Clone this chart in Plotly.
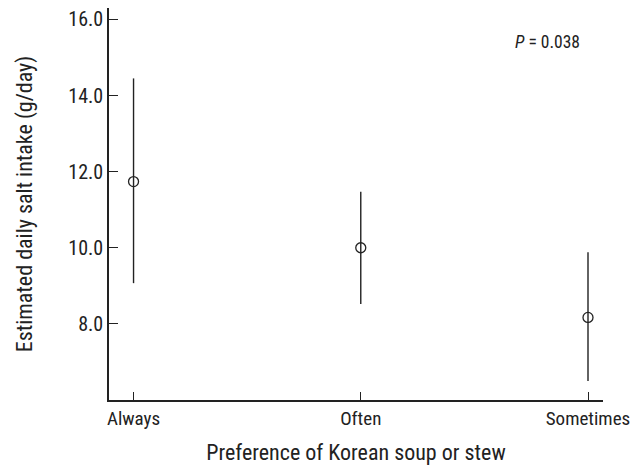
import plotly.graph_objects as go

categories = ["Always", "Often", "Sometimes"]
means = [11.74, 10.0, 8.17]
upper = [14.45, 11.47, 9.88]
lower = [9.07, 8.52, 6.5]
y_ticks = [8.0, 10.0, 12.0, 14.0, 16.0]
y_tick_labels = ["8.0", "10.0", "12.0", "14.0", "16.0"]
p_text = "<i>P</i> = 0.038"

FONT = "Liberation Sans Narrow, Arial Narrow, Roboto Condensed, Liberation Sans, sans-serif"

x_idx = list(range(len(categories)))
fig = go.Figure()
fig.add_trace(go.Scatter(
    x=x_idx, y=means, mode="markers",
    marker=dict(symbol="circle-open", size=10, color="#222222", line=dict(width=1.3)),
    error_y=dict(type="data", symmetric=False,
                 array=[u - m for u, m in zip(upper, means)],
                 arrayminus=[m - l for m, l in zip(means, lower)],
                 width=0, thickness=1.4, color="#222222"),
    showlegend=False,
))

fig.add_annotation(x=1.0, y=1.0, xref="paper", yref="paper", xanchor="right", yanchor="top",
                   xshift=-21, yshift=-22, text=p_text, showarrow=False,
                   font=dict(family=FONT, size=17.5, color="#222222"))

fig.update_layout(
    width=633, height=468,
    margin=dict(l=109, r=30, t=8, b=68),
    paper_bgcolor="white", plot_bgcolor="white",
    font=dict(family=FONT, size=20, color="#222222"),
)
fig.update_xaxes(
    tickmode="array", tickvals=x_idx, ticktext=categories,
    range=[-0.108, 2.066], showgrid=False, zeroline=False,
    showline=True, linecolor="#222222", linewidth=1.5,
    ticks="inside", ticklen=8, tickwidth=1.3, tickcolor="#222222",
    title=dict(text="Preference of Korean soup or stew", standoff=16,
               font=dict(family=FONT, size=22)),
    tickfont=dict(family=FONT, size=19),
    ticklabeloverflow="allow",
    automargin=False,
)
fig.update_yaxes(
    tickmode="array", tickvals=y_ticks, ticktext=y_tick_labels,
    range=[6.0, 16.3], showgrid=False, zeroline=False,
    showline=True, linecolor="#222222", linewidth=1.5,
    ticks="inside", ticklen=9, tickwidth=1.3, tickcolor="#222222",
    title=dict(text="Estimated daily salt intake (g/day)", standoff=30,
               font=dict(family=FONT, size=22)),
    tickfont=dict(family=FONT, size=20),
    ticklabeloverflow="allow",
    automargin=False,
)

fig.write_html("out.html",
               config={"displayModeBar": False},
               post_script="document.body.style.margin='0';document.body.style.overflow='hidden';")
